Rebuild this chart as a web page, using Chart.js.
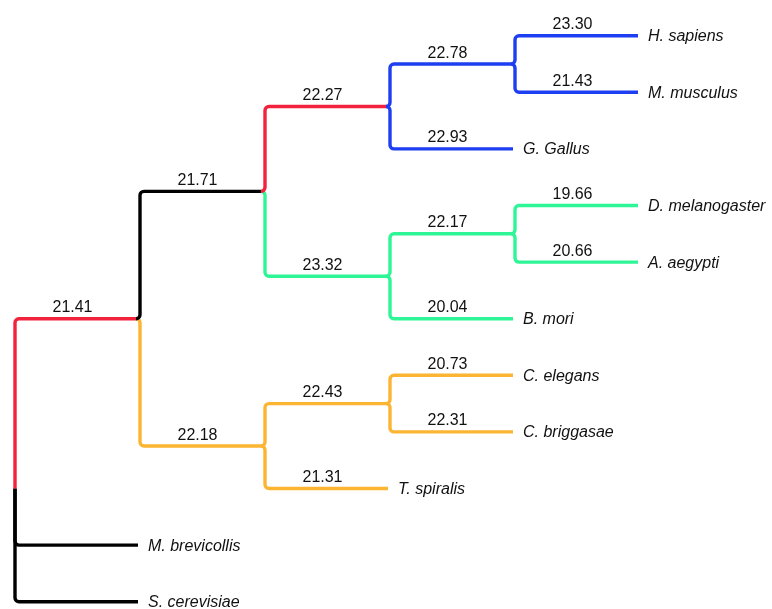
<!DOCTYPE html>
<html>
<head>
<meta charset="utf-8">
<script src="https://cdn.jsdelivr.net/npm/chart.js@4"></script>
<style>
  html, body { margin: 0; padding: 0; background: #ffffff; }
  #wrap { width: 772px; height: 609px; position: relative; }
</style>
</head>
<body>
<div id="wrap"><canvas id="tree"></canvas></div>
<script>
// Species at the tips, top to bottom
const leafNames = ['H. sapiens', 'M. musculus', 'G. Gallus', 'D. melanogaster', 'A. aegypti',
  'B. mori', 'C. elegans', 'C. briggasae', 'T. spiralis', 'M. brevicollis', 'S. cerevisiae'];

// Branches: parent node -> child node, with the value printed over each branch
const edgeParents = ['root', 'root', 'root', 'A', 'A', 'B', 'B', 'D', 'D', 'F', 'F',
  'E', 'E', 'G', 'G', 'C', 'C', 'H', 'H'];
const edgeChildren = ['A', 'M. brevicollis', 'S. cerevisiae', 'B', 'C', 'D', 'E', 'F', 'G. Gallus',
  'H. sapiens', 'M. musculus', 'G', 'B. mori', 'D. melanogaster', 'A. aegypti',
  'H', 'T. spiralis', 'C. elegans', 'C. briggasae'];
const branchValues = [21.41, null, null, 21.71, 22.18, 22.27, 23.32, 22.78, 22.93,
  23.30, 21.43, 22.17, 20.04, 19.66, 20.66, 22.43, 21.31, 20.73, 22.31];

// Branch colours by clade
const RED = '#f2223c', BLUE = '#1e3ef2', GREEN = '#2ef596', ORANGE = '#fcb433', BLACK = '#000000';
const branchColors = {
  'A': RED, 'M. brevicollis': BLACK, 'S. cerevisiae': BLACK,
  'B': BLACK, 'C': ORANGE, 'D': RED, 'E': GREEN,
  'F': BLUE, 'G. Gallus': BLUE, 'H. sapiens': BLUE, 'M. musculus': BLUE,
  'G': GREEN, 'B. mori': GREEN, 'D. melanogaster': GREEN, 'A. aegypti': GREEN,
  'H': ORANGE, 'T. spiralis': ORANGE, 'C. elegans': ORANGE, 'C. briggasae': ORANGE
};

// ---- tree layout: depth along x, row along y (internal node = mean of its children)
const children = {};
edgeParents.forEach((p, i) => { (children[p] = children[p] || []).push(edgeChildren[i]); });
const depth = {}, row = {};
function place(name, d) {
  depth[name] = d;
  if (!children[name]) { row[name] = leafNames.indexOf(name); return; }
  children[name].forEach(c => place(c, d + 1));
  row[name] = children[name].reduce((s, c) => s + row[c], 0) / children[name].length;
}
place('root', 0);

const datasets = edgeChildren.map((child, i) => {
  const parent = edgeParents[i];
  return {
    label: child,
    data: [
      { x: depth[parent], y: row[parent] },
      { x: depth[parent], y: row[child] },
      { x: depth[child], y: row[child] }
    ],
    borderColor: branchColors[child],
    borderWidth: 3.4,
    pointRadius: 0,
    showLine: true,
    fill: false,
    branchValue: branchValues[i],
    isRoot: parent === 'root',
    isLeaf: !children[child]
  };
});

// Elbow branches with rounded corners, drawn through the points Chart.js placed
const R = 4;
const elbowPaths = {
  id: 'elbowPaths',
  beforeDatasetDraw(chart, args) {
    const ds = chart.data.datasets[args.index];
    const [p0, p1, p2] = args.meta.data;
    const ctx = chart.ctx;
    const xv = p0.x;
    const xEnd = ds.isLeaf ? p2.x - 2 : p2.x - R;
    ctx.save();
    ctx.strokeStyle = ds.borderColor;
    ctx.lineWidth = ds.borderWidth;
    ctx.lineCap = 'butt';
    ctx.lineJoin = 'round';
    ctx.beginPath();
    if (ds.isRoot) {
      ctx.moveTo(xv, p0.y);
    } else {
      ctx.moveTo(xv - R, p0.y);
      ctx.arcTo(xv, p0.y, xv, p1.y, R);
    }
    ctx.arcTo(xv, p1.y, xEnd, p1.y, R);
    ctx.lineTo(xEnd, p2.y);
    ctx.stroke();
    ctx.restore();
    return false;
  }
};

// Branch values above each branch and species names at the tips
const treeLabels = {
  id: 'treeLabels',
  afterDatasetsDraw(chart) {
    const ctx = chart.ctx;
    const xs = chart.scales.x;
    ctx.save();
    ctx.fillStyle = '#111111';
    ctx.textBaseline = 'alphabetic';
    chart.data.datasets.forEach((ds, i) => {
      const pts = chart.getDatasetMeta(i).data;
      const p2 = pts[2];
      if (ds.branchValue !== null) {
        ctx.font = '16px "Liberation Sans", Arial, sans-serif';
        ctx.textAlign = 'center';
        const cx = xs.getPixelForValue(ds.data[0].x + 0.46);
        ctx.fillText(ds.branchValue.toFixed(2), cx, p2.y - 6.5);
      }
      if (ds.isLeaf) {
        ctx.font = 'italic 16px "Liberation Sans", Arial, sans-serif';
        ctx.textAlign = 'left';
        ctx.fillText(ds.label, p2.x + 8, p2.y + 5.5);
      }
    });
    ctx.restore();
  }
};

new Chart(document.getElementById('tree'), {
  type: 'scatter',
  data: { datasets },
  options: {
    responsive: true,
    maintainAspectRatio: false,
    animation: false,
    events: [],
    layout: { padding: { left: 15, right: 132, top: 35.7, bottom: 7.3 } },
    scales: {
      x: { type: 'linear', min: 0, max: 5, display: false },
      y: { type: 'linear', min: 0, max: 10, reverse: true, display: false }
    },
    plugins: { legend: { display: false }, tooltip: { enabled: false } }
  },
  plugins: [elbowPaths, treeLabels]
});
</script>
</body>
</html>
